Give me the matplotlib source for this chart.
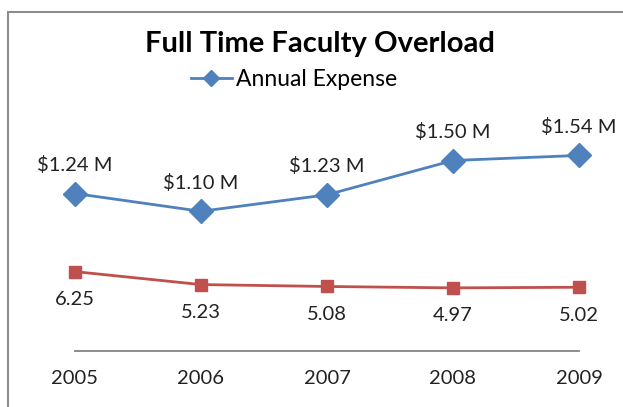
import numpy as np
import matplotlib.pyplot as plt
from matplotlib.patches import Rectangle

# chart data
years = ['2005', '2006', '2007', '2008', '2009']
expense = [1.24, 1.10, 1.23, 1.50, 1.54]        # $ millions
expense_labels = ['$1.24 M', '$1.10 M', '$1.23 M', '$1.50 M', '$1.54 M']
overload = [6.25, 5.23, 5.08, 4.97, 5.02]

plt.rcParams['font.family'] = ['Lato', 'DejaVu Sans']

W, H = 623, 407
fig = plt.figure(figsize=(W / 100, H / 100), dpi=100)

# chart border (cut off on right and bottom)
fig.patches.append(Rectangle((8 / W, -0.05), 1.2, 1 - 12 / H + 0.05,
                             transform=fig.transFigure, fill=False,
                             edgecolor='#8c8c8c', linewidth=1.5))

left, right = 75 / W, 579 / W
bottom, top = 1 - 351 / H, 1 - 97 / H
ax = fig.add_axes([left, bottom, right - left, top - bottom])
ax2 = ax.twinx()

x = np.arange(len(years))
blue = '#4F81BD'
red = '#C0504D'

ln, = ax.plot(x, expense, color=blue, lw=2, marker='D', markersize=12,
              label='Annual Expense', clip_on=False)
ax2.plot(x, overload, color=red, lw=2, marker='s', markersize=9, clip_on=False)

ax.set_xlim(0, 4)
ax.set_ylim(0, 2)
ax2.set_ylim(0, 20)

for xi, v, t in zip(x, expense, expense_labels):
    ax.annotate(t, (xi, v), xytext=(0, 20.5), textcoords='offset points',
                ha='center', va='center', fontsize=14.5, color='#222222')
for xi, v in zip(x, overload):
    ax2.annotate(f'{v:.2f}', (xi, v), xytext=(0, -20), textcoords='offset points',
                 ha='center', va='center', fontsize=14.5, color='#222222')

for a in (ax, ax2):
    a.set_yticks([])
    for s in ('left', 'right', 'top'):
        a.spines[s].set_visible(False)
    a.spines['bottom'].set_color('#8c8c8c')
    a.spines['bottom'].set_linewidth(1.2)
    a.patch.set_visible(False)

ax.set_xticks(x)
ax.set_xticklabels(years, fontsize=14.5, color='#222222')
ax.tick_params(axis='x', length=0, pad=14)

fig.text(320 / W, 1 - 44 / H, 'Full Time Faculty Overload', ha='center',
         va='center', fontsize=21, fontweight='bold', color='black')

fig.legend(handles=[ln], loc='center', bbox_to_anchor=(294 / W, 1 - 80 / H),
           frameon=False, fontsize=16.5, handlelength=1.8, handletextpad=0.2,
           borderaxespad=0, markerscale=0.7)

fig.savefig('out.png', dpi=100)
